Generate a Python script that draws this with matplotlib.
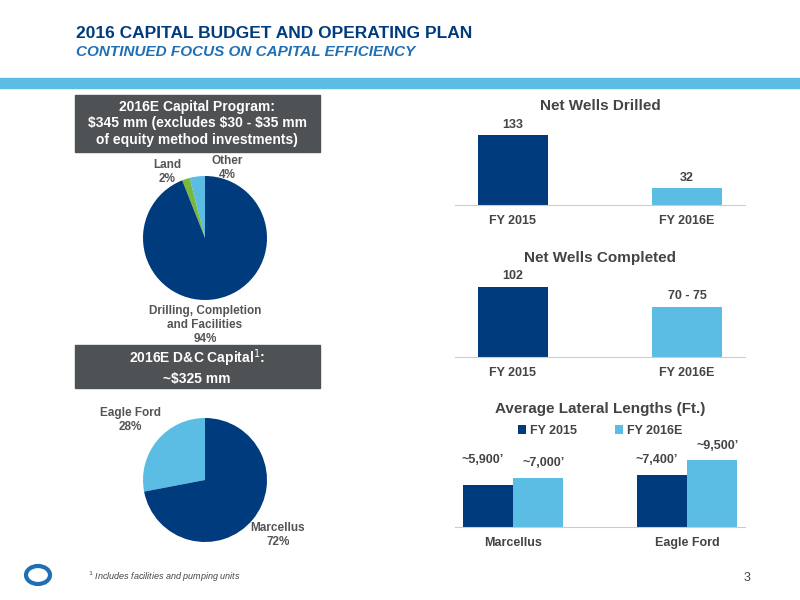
import matplotlib.pyplot as plt
import matplotlib.patches as patches
import numpy as np

plt.rcParams['font.family'] = ['Liberation Sans', 'DejaVu Sans']

navy = '#003b7e'
light = '#5bbde4'
green = '#79b83e'
grey_box = '#4e5254'

program_labels = ['Other', 'Land', 'Drilling, Completion\nand Facilities']
program_pct = [4, 2, 94]
dc_labels = ['Eagle Ford', 'Marcellus']
dc_pct = [28, 72]

years = ['FY 2015', 'FY 2016E']
wells_drilled = [133, 32]
wells_completed = [102, 72.5]
completed_text = ['102', '70 - 75']

plays = ['Marcellus', 'Eagle Ford']
lateral_2015 = [5900, 7400]
lateral_2016 = [7000, 9500]

fig = plt.figure(figsize=(8, 6), dpi=100)

# header
fig.text(0.095, 0.945, '2016 CAPITAL BUDGET AND OPERATING PLAN', color=navy,
         fontsize=12.5, weight='bold', va='center')
fig.text(0.095, 0.914, 'CONTINUED FOCUS ON CAPITAL EFFICIENCY', color='#1f6fb5',
         fontsize=11, weight='bold', style='italic', va='center')
fig.patches.append(patches.Rectangle((0, 1 - 88/600), 1, 10/600, transform=fig.transFigure,
                                     color=light, zorder=0))

# grey boxes
for y0, y1, txt in [(95, 152, '2016E Capital Program:\n$345 mm (excludes $30 - $35 mm\nof equity method investments)'),
                    (345, 388, '2016E D&C Capital$^1$:\n~$325 mm')]:
    fig.patches.append(patches.Rectangle((75/800, 1 - y1/600), 245/800, (y1 - y0)/600,
                                         transform=fig.transFigure, color=grey_box))
    fig.text(197/800, 1 - (y0 + y1)/2/600, txt, color='white', fontsize=10, weight='bold',
             ha='center', va='center', linespacing=1.25)


def pie_axes(box):
    ax = fig.add_axes(box)
    ax.set_xlim(-1, 1)
    ax.set_ylim(-1, 1)
    ax.set_aspect('equal')
    return ax


# pie 1
ax = pie_axes([143/800, 1 - 300/600, 124/800, 124/600])
ax.pie(program_pct, colors=[light, green, navy], startangle=90, counterclock=True,
       wedgeprops=dict(linewidth=0), frame=True)
ax.axis('off')
fig.text(227/800, 1 - 168/600, 'Other\n4%', fontsize=8.5, weight='bold', color='#555555', ha='center', va='center')
fig.text(167/800, 1 - 172/600, 'Land\n2%', fontsize=8.5, weight='bold', color='#555555', ha='center', va='center')
fig.text(205/800, 1 - 325/600, 'Drilling, Completion\nand Facilities\n94%', fontsize=8.5, weight='bold',
         color='#555555', ha='center', va='center')

# pie 2
ax = pie_axes([143/800, 1 - 542/600, 124/800, 124/600])
ax.pie(dc_pct, colors=[light, navy], startangle=90, counterclock=True,
       wedgeprops=dict(linewidth=0), frame=True)
ax.axis('off')
fig.text(130/800, 1 - 420/600, 'Eagle Ford\n28%', fontsize=8.5, weight='bold', color='#555555', ha='center', va='center')
fig.text(278/800, 1 - 535/600, 'Marcellus\n72%', fontsize=8.5, weight='bold', color='#555555', ha='center', va='center')


def style(ax, title, title_pad):
    for s in ['top', 'right', 'left']:
        ax.spines[s].set_visible(False)
    ax.spines['bottom'].set_color('#cccccc')
    ax.set_yticks([])
    ax.tick_params(axis='x', length=0, labelsize=9, labelcolor='#444444', pad=7)
    for t in ax.get_xticklabels():
        t.set_weight('bold')
    ax.set_xlim(-0.333, 1.333)
    ax.set_title(title, fontsize=11, weight='bold', color='#444444', pad=title_pad)


x = np.arange(len(years))
ax = fig.add_axes([455/800, 1 - 205/600, 290/800, 70/600])
ax.bar(x, wells_drilled, width=0.4, color=[navy, light])
ax.set_ylim(0, 133)
ax.set_xticks(x, years)
for xi, v in zip(x, wells_drilled):
    ax.text(xi, v + 8, str(v), ha='center', va='bottom', fontsize=9, weight='bold', color='#444444')
style(ax, 'Net Wells Drilled', 18)

ax = fig.add_axes([455/800, 1 - 357/600, 290/800, 70/600])
ax.bar(x, wells_completed, width=0.4, color=[navy, light])
ax.set_ylim(0, 102)
ax.set_xticks(x, years)
for xi, v, t in zip(x, wells_completed, completed_text):
    ax.text(xi, v + 8, t, ha='center', va='bottom', fontsize=9, weight='bold', color='#444444')
style(ax, 'Net Wells Completed', 18)

ax = fig.add_axes([455/800, 1 - 527/600, 290/800, 67/600])
w = 0.287
ax.bar(x - w/2, lateral_2015, width=w, color=navy, label='FY 2015')
ax.bar(x + w/2, lateral_2016, width=w, color=light, label='FY 2016E')
ax.set_ylim(0, 9500)
ax.set_xticks(x, plays)
for xi, v, dy in zip(x - w/2, lateral_2015, [14, 6]):
    ax.annotate(f'~{v:,}\u2019', (xi - 0.03, v), xytext=(0, dy), textcoords='offset points',
                ha='center', va='bottom', fontsize=9, weight='bold', color='#444444')
for xi, v in zip(x + w/2, lateral_2016):
    ax.annotate(f'~{v:,}\u2019', (xi + 0.03, v), xytext=(0, 6), textcoords='offset points',
                ha='center', va='bottom', fontsize=9, weight='bold', color='#444444')
style(ax, 'Average Lateral Lengths (Ft.)', 34)
leg = ax.legend(loc='lower center', bbox_to_anchor=(0.5, 1.18), ncol=2, frameon=False,
                fontsize=9, handlelength=0.7, handleheight=0.7, columnspacing=3, handletextpad=0.3)
for t in leg.get_texts():
    t.set_weight('bold')
    t.set_color('#444444')

# footer
fig.text(0.11, 1 - 577/600, '$^1$ Includes facilities and pumping units', fontsize=6.5,
         style='italic', color='#444444', va='center')
fig.text(0.93, 1 - 578/600, '3', fontsize=9, color='#444444', va='center')
fig.patches.append(patches.Circle((38/800, 1 - 575/600), 9/600, transform=fig.transFigure,
                                  fill=False, lw=3, ec='#1f6fb5'))

fig.savefig('out.png', dpi=100)
